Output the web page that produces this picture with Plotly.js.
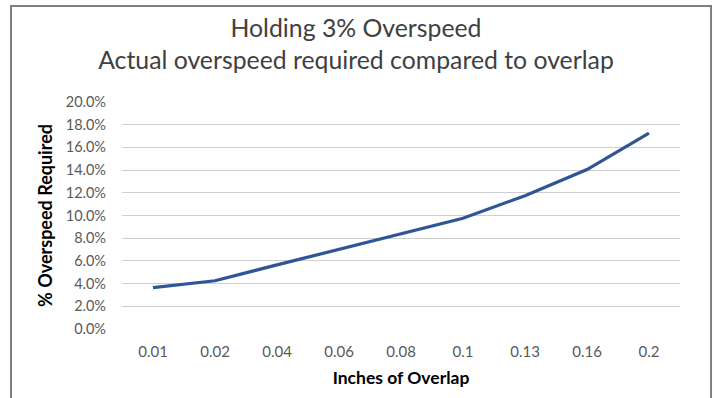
<!DOCTYPE html>
<html><head><meta charset="utf-8">
<script src="https://cdn.plot.ly/plotly-3.0.1.min.js"></script>
<style>html,body{margin:0;padding:0;background:#fff;}#chart{width:716px;height:398px;}</style>
</head><body><div id="chart"></div>
<script>
const overlapInches = ['0.01','0.02','0.04','0.06','0.08','0.1','0.13','0.16','0.2'];
const overspeedRequired = [3.65, 4.25, 5.65, 7.0, 8.4, 9.75, 11.75, 14.05, 17.25];
const yTickVals = [0,2,4,6,8,10,12,14,16,18,20];
const yTickText = yTickVals.map(v => v.toFixed(1) + '%');

const trace = {
  x: overlapInches, y: overspeedRequired, type: 'scatter', mode: 'lines',
  line: {color: '#2F5597', width: 3.2}, hoverinfo: 'x+y'
};
const font = 'Lato, "Open Sans", sans-serif';
const layout = {
  width: 716, height: 398,
  margin: {l: 122, r: 36, t: 102, b: 69},
  paper_bgcolor: '#fff', plot_bgcolor: '#fff',
  showlegend: false,
  font: {family: font, color: '#595959'},
  title: {text: 'Holding 3% Overspeed<br>Actual overspeed required compared to overlap',
          font: {family: font, size: 24.8, color: '#404040'}, x: 356/716, xref: 'container', xanchor: 'center',
          y: 1 - 37/398, yref: 'container', yanchor: 'middle'},
  xaxis: {type: 'category', range: [-0.5, 8.5], showgrid: false, zeroline: false, showline: false, ticks: '',
          ticklabelstandoff: 12,
          tickfont: {size: 15, color: '#595959'},
          title: {text: 'Inches of Overlap', font: {size: 17.5, color: '#000', weight: 'bold'}, standoff: 12}},
  yaxis: {range: [0, 20], tickvals: yTickVals, ticktext: yTickText, showgrid: true, gridcolor: '#cfcfcf',
          gridwidth: 1, zeroline: false, showline: false, ticks: '', ticklabelstandoff: 15,
          tickfont: {size: 14.5, color: '#595959'},
          title: {text: '% Overspeed Required', font: {size: 18, color: '#000', weight: 'bold'}, standoff: 8}},
  shapes: [{type: 'rect', xref: 'paper', yref: 'paper', x0: -0.1989, x1: 1.0556, y0: -0.32, y1: 1.4229,
            line: {color: '#7f7f7f', width: 2}, fillcolor: 'rgba(0,0,0,0)', layer: 'below'}]
};
Plotly.newPlot('chart', [trace], layout, {displayModeBar: false, staticPlot: true});
</script></body></html>
